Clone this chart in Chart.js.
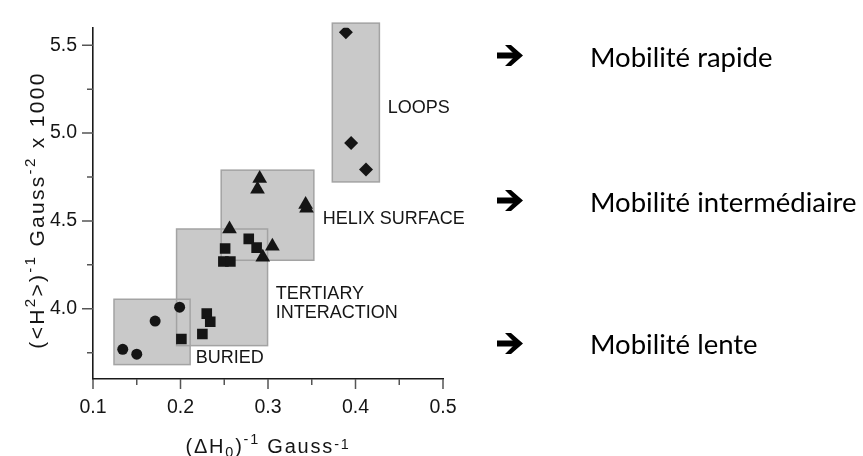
<!DOCTYPE html>
<html>
<head>
<meta charset="utf-8">
<script src="https://cdn.jsdelivr.net/npm/chart.js@4.4.1/dist/chart.umd.min.js"></script>
<style>
  html, body { margin: 0; padding: 0; background: #fff; }
  #wrap { position: relative; width: 863px; height: 456px; overflow: hidden; }
  #c { position: absolute; left: 0; top: 0; }
  .arrow { position: absolute; left: 497px; width: 26px; height: 21px; }
  .note { position: absolute; left: 590px; font-family: Lato, "Open Sans", sans-serif; font-size: 27.5px; line-height: 27.5px; color: #000; white-space: nowrap; }
</style>
</head>
<body>
<div id="wrap">
  <canvas id="c" width="863" height="456"></canvas>
  <svg class="arrow" style="top:45px" viewBox="0 0 26 21"><rect x="0" y="7.5" width="19" height="6" fill="#000"/><polygon points="8,0 14,0 26,10.5 14,21 8,21 18.5,10.5" fill="#000"/></svg>
  <div class="note" style="top:43px">Mobilité rapide</div>
  <svg class="arrow" style="top:189.5px" viewBox="0 0 26 21"><rect x="0" y="7.5" width="19" height="6" fill="#000"/><polygon points="8,0 14,0 26,10.5 14,21 8,21 18.5,10.5" fill="#000"/></svg>
  <div class="note" style="top:187.5px">Mobilité intermédiaire</div>
  <svg class="arrow" style="top:333px" viewBox="0 0 26 21"><rect x="0" y="7.5" width="19" height="6" fill="#000"/><polygon points="8,0 14,0 26,10.5 14,21 8,21 18.5,10.5" fill="#000"/></svg>
  <div class="note" style="top:330px">Mobilité lente</div>
</div>
<script>
// ---- data ----
const buriedX    = [0.134, 0.150, 0.171, 0.199];
const buriedY    = [3.769, 3.741, 3.930, 4.009];
const tertiaryX  = [0.201, 0.225, 0.230, 0.234, 0.251, 0.249, 0.257, 0.278, 0.287];
const tertiaryY  = [3.828, 3.856, 3.972, 3.926, 4.343, 4.269, 4.269, 4.398, 4.348];
const helixX     = [0.2905, 0.288, 0.343, 0.344, 0.256, 0.305, 0.294];
const helixY     = [4.741, 4.680, 4.593, 4.572, 4.454, 4.356, 4.293];
const loopsX     = [0.389, 0.395, 0.412];
const loopsY     = [5.574, 4.944, 4.793];

// shaded regions (value coordinates)
const regionXMin = [0.124, 0.1955, 0.2465, 0.3735];
const regionXMax = [0.211, 0.2995, 0.3524, 0.4273];
const regionYMin = [3.682, 3.790, 4.276, 4.722];
const regionYMax = [4.054, 4.454, 4.789, 5.626];

// region labels (value coordinates of left/middle of text)
const labelText = ['LOOPS', 'HELIX SURFACE', 'TERTIARY', 'INTERACTION', 'BURIED'];
const labelX    = [0.4368, 0.3625, 0.3088, 0.3088, 0.2174];
const labelY    = [5.144, 4.513, 4.083, 3.976, 3.717];

// axes
const xMajorTicks = [0.1, 0.2, 0.3, 0.4, 0.5];
const xMinorTicks = [0.15, 0.25, 0.35, 0.45];
const yMajorTicks = [4.0, 4.5, 5.0, 5.5];
const yMinorTicks = [3.75, 4.25, 4.75, 5.25];
const xMin = 0.1, xMax = 0.5, yMin = 3.6, yMax = 5.6;

const yTitleParts = [
  {t: '(<H'}, {t: '2', sup: true}, {t: '>)'}, {t: '-1', sup: true},
  {t: ' Gauss'}, {t: '-2', sup: true}, {t: ' x 1000'}
];
const xTitleParts = [
  {t: '(ΔH'}, {t: '0', sub: true}, {t: ')'}, {t: '-1', sup: true},
  {t: ' Gauss'}, {t: '-1', low: true}
];

const pts = (xs, ys) => xs.map((x, i) => ({x: x, y: ys[i]}));

const FONT = '"Liberation Sans", Arial, sans-serif';
const INK = '#151515';

function richWidth(ctx, parts, size, spacing) {
  let w = 0;
  parts.forEach(p => {
    const s = (p.sup || p.sub || p.low) ? size * 0.72 : size;
    ctx.font = s + 'px ' + FONT;
    ctx.letterSpacing = spacing + 'px';
    w += ctx.measureText(p.t).width;
  });
  return w;
}
function drawRich(ctx, parts, x, y, size, spacing) {
  let cx = x;
  parts.forEach(p => {
    const small = p.sup || p.sub || p.low;
    const s = small ? size * 0.72 : size;
    let dy = 0;
    if (p.sup) dy = -size * 0.45;
    if (p.sub) dy = size * 0.22;
    if (p.low) dy = -size * 0.18;
    ctx.font = s + 'px ' + FONT;
    ctx.letterSpacing = spacing + 'px';
    ctx.fillText(p.t, cx, y + dy);
    cx += ctx.measureText(p.t).width;
  });
}

const decor = {
  id: 'decor',
  beforeDatasetsDraw(chart) {
    const ctx = chart.ctx, xs = chart.scales.x, ys = chart.scales.y;
    ctx.save();
    ctx.fillStyle = '#c9c9c9';
    for (let i = 0; i < regionXMin.length; i++) {
      const l = xs.getPixelForValue(regionXMin[i]), r = xs.getPixelForValue(regionXMax[i]);
      const t = ys.getPixelForValue(regionYMax[i]), b = ys.getPixelForValue(regionYMin[i]);
      ctx.fillRect(l, t, r - l, b - t);
    }
    ctx.strokeStyle = '#a3a3a3';
    ctx.lineWidth = 1.5;
    for (let i = 0; i < regionXMin.length; i++) {
      const l = xs.getPixelForValue(regionXMin[i]), r = xs.getPixelForValue(regionXMax[i]);
      const t = ys.getPixelForValue(regionYMax[i]), b = ys.getPixelForValue(regionYMin[i]);
      ctx.strokeRect(l, t, r - l, b - t);
    }
    ctx.fillStyle = INK;
    ctx.font = '18px ' + FONT;
    ctx.textAlign = 'left';
    ctx.textBaseline = 'middle';
    labelText.forEach((s, i) => {
      ctx.fillText(s, xs.getPixelForValue(labelX[i]), ys.getPixelForValue(labelY[i]));
    });
    ctx.restore();
  },
  afterDraw(chart) {
    const ctx = chart.ctx, xs = chart.scales.x, ys = chart.scales.y;
    const ca = chart.chartArea;
    ctx.save();
    ctx.strokeStyle = '#555';
    ctx.lineWidth = 1.5;
    ctx.beginPath();
    xMajorTicks.forEach(v => { const p = xs.getPixelForValue(v); ctx.moveTo(p, ca.bottom); ctx.lineTo(p, ca.bottom + 10); });
    xMinorTicks.forEach(v => { const p = xs.getPixelForValue(v); ctx.moveTo(p, ca.bottom); ctx.lineTo(p, ca.bottom + 6); });
    yMajorTicks.forEach(v => { const p = ys.getPixelForValue(v); ctx.moveTo(ca.left, p); ctx.lineTo(ca.left - 11, p); });
    yMinorTicks.forEach(v => { const p = ys.getPixelForValue(v); ctx.moveTo(ca.left, p); ctx.lineTo(ca.left - 6, p); });
    ctx.stroke();

    ctx.fillStyle = INK;
    ctx.textAlign = 'left';
    ctx.textBaseline = 'alphabetic';
    const xsz = 20, xsp = 1.8;
    const xw = richWidth(ctx, xTitleParts, xsz, xsp);
    drawRich(ctx, xTitleParts, (ca.left + ca.right) / 2 - xw / 2, 453, xsz, xsp);

    const ysz = 21, ysp = 2.3;
    const yw = richWidth(ctx, yTitleParts, ysz, ysp);
    ctx.translate(44, 210);
    ctx.rotate(-Math.PI / 2);
    drawRich(ctx, yTitleParts, -yw / 2, 0, ysz, ysp);
    ctx.restore();
  }
};

const common = { backgroundColor: INK, borderColor: INK, borderWidth: 0 };

new Chart(document.getElementById('c'), {
  type: 'scatter',
  data: {
    datasets: [
      Object.assign({ label: 'Buried', data: pts(buriedX, buriedY), pointStyle: 'circle', pointRadius: 5.5 }, common),
      Object.assign({ label: 'Tertiary interaction', data: pts(tertiaryX, tertiaryY), pointStyle: 'rect', pointRadius: 7.5 }, common),
      Object.assign({ label: 'Helix surface', data: pts(helixX, helixY), pointStyle: 'triangle', pointRadius: 8.5 }, common),
      Object.assign({ label: 'Loops', data: pts(loopsX, loopsY), pointStyle: 'rectRot', pointRadius: 7 }, common)
    ]
  },
  options: {
    responsive: false,
    animation: false,
    devicePixelRatio: 1,
    events: [],
    layout: { padding: { left: 0, top: 19, right: 420, bottom: 0 } },
    plugins: { legend: { display: false }, tooltip: { enabled: false } },
    scales: {
      x: {
        type: 'linear', min: xMin, max: xMax,
        grid: { display: false, drawTicks: false },
        border: { display: true, color: '#1a1a1a', width: 1.6 },
        afterBuildTicks: s => { s.ticks = xMajorTicks.map(v => ({ value: v })); },
        afterFit: s => { s.height = 77; },
        ticks: {
          autoSkip: false, maxRotation: 0, padding: 17, color: INK,
          font: { family: FONT, size: 19.5 },
          callback: v => Number(v).toFixed(1)
        }
      },
      y: {
        type: 'linear', min: yMin, max: yMax,
        grid: { display: false, drawTicks: false },
        border: { display: true, color: '#1a1a1a', width: 1.6 },
        afterBuildTicks: s => { s.ticks = yMajorTicks.map(v => ({ value: v })); },
        afterFit: s => { s.width = 93; },
        ticks: {
          autoSkip: false, padding: 16, color: INK,
          font: { family: FONT, size: 19.5 },
          callback: v => Number(v).toFixed(1)
        }
      }
    }
  },
  plugins: [decor]
});
</script>
</body>
</html>
